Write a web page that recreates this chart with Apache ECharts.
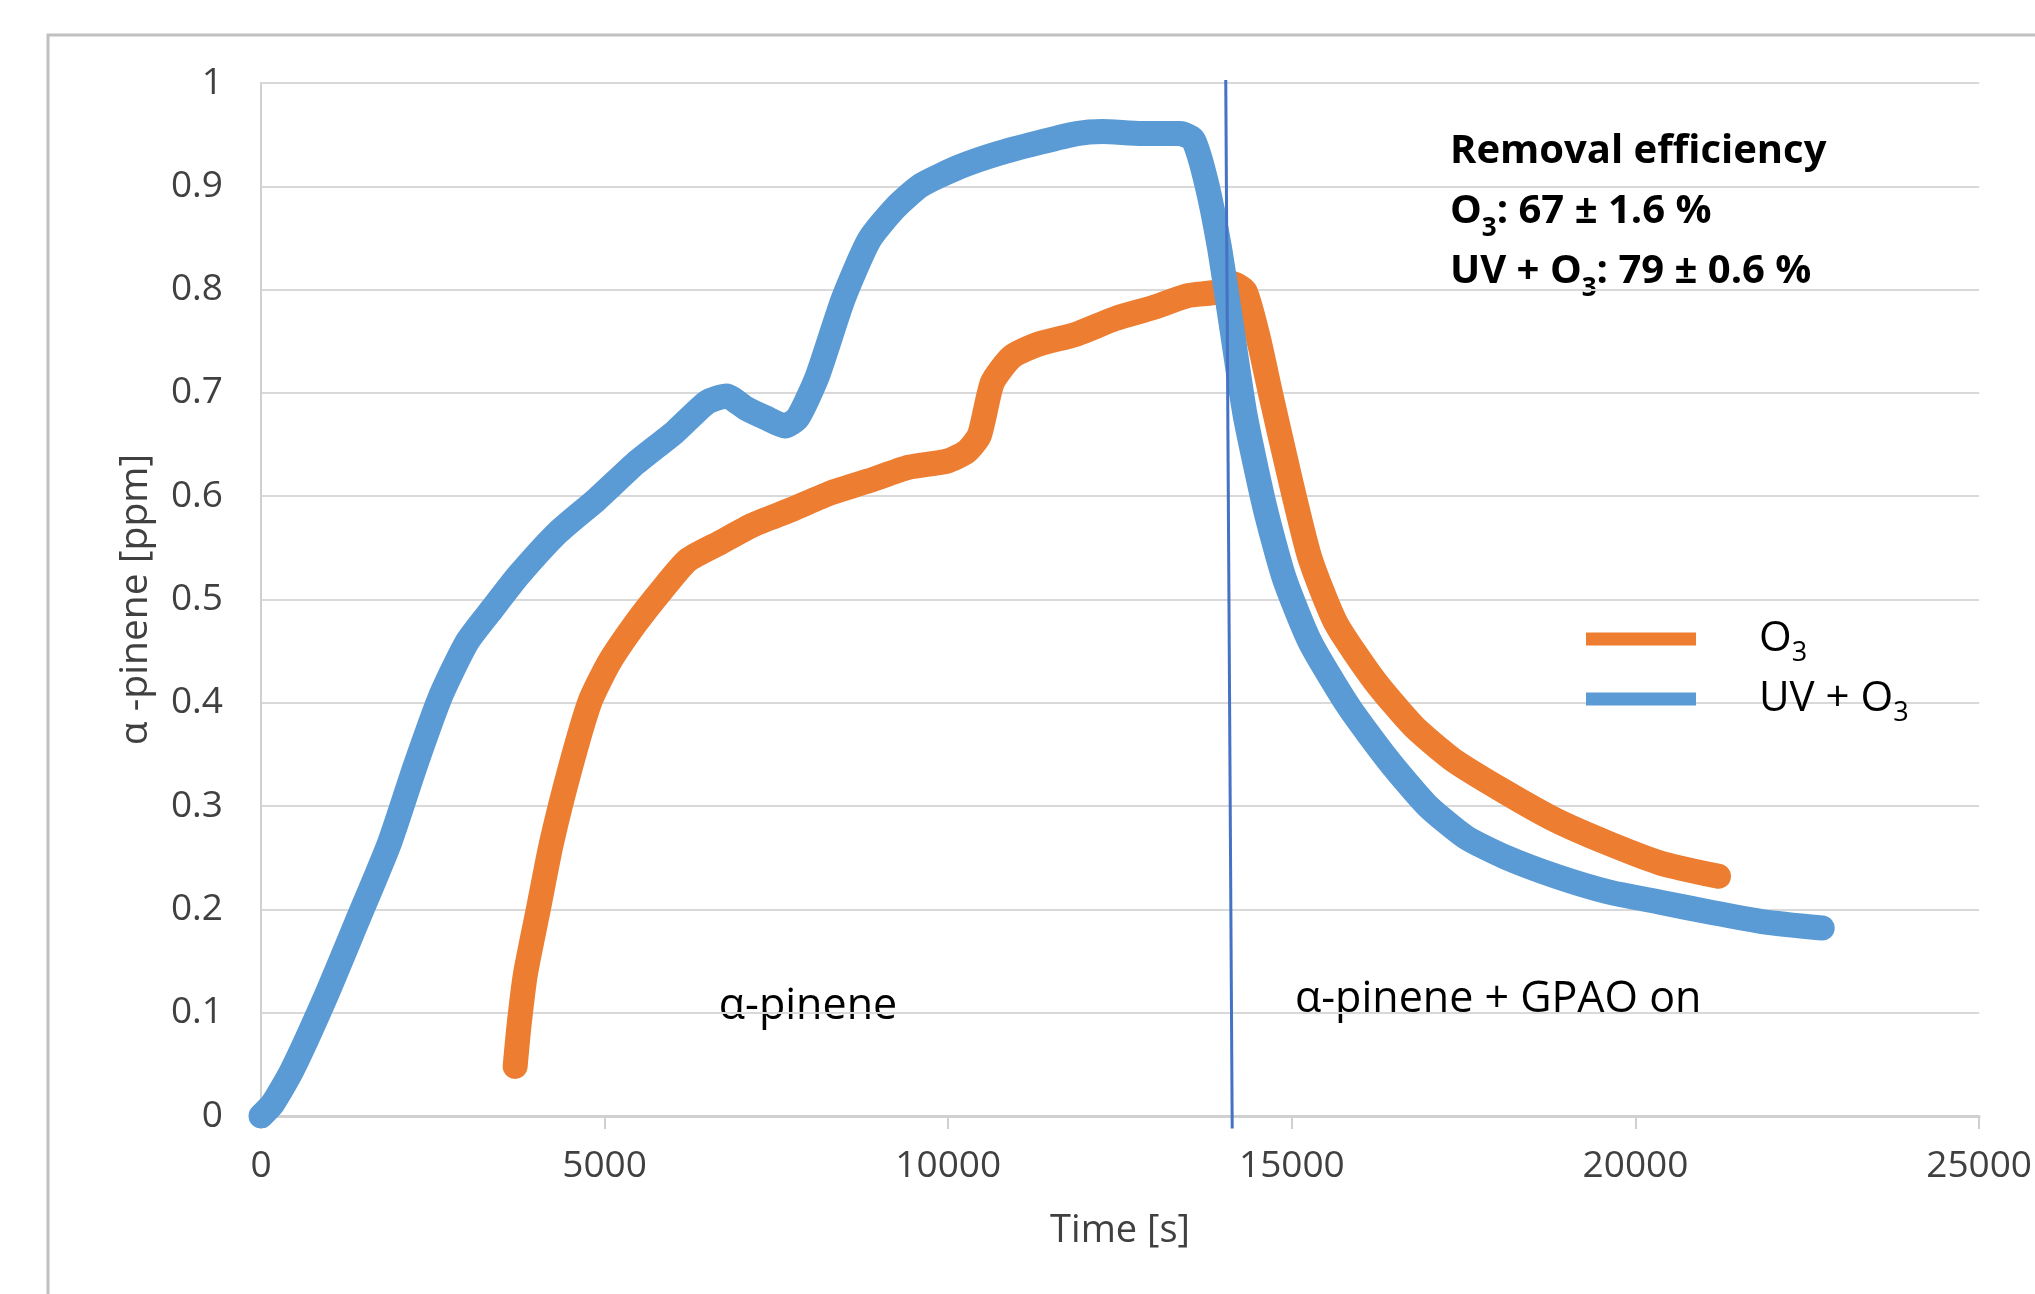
<!DOCTYPE html>
<html>
<head>
<meta charset="utf-8">
<script src="https://cdn.jsdelivr.net/npm/echarts@6/dist/echarts.min.js"></script>
<style>
  html, body { margin: 0; padding: 0; background: #fff; }
  #main { width: 2035px; height: 1294px; }
</style>
</head>
<body>
<div id="main"></div>
<script>
// time [s] / alpha-pinene [ppm]
const uvTime = [0, 170, 450, 925, 1396, 1868, 2245, 2623, 3000, 3378, 3755, 4321, 4887, 5453, 6019, 6491, 6774, 7057, 7340, 7623, 7811, 8095, 8472, 8849, 9226, 9604, 10170, 10736, 11302, 11868, 12245, 12811, 13377, 13566, 13755, 13943, 14132, 14321, 14604, 14887, 15264, 15830, 16396, 16962, 17528, 18094, 18849, 19604, 20358, 21113, 21868, 22717]
const uvConc = [0.0, 0.012, 0.044, 0.113, 0.188, 0.264, 0.339, 0.408, 0.459, 0.492, 0.524, 0.565, 0.597, 0.632, 0.662, 0.691, 0.697, 0.685, 0.676, 0.668, 0.676, 0.716, 0.791, 0.848, 0.879, 0.901, 0.919, 0.932, 0.942, 0.951, 0.953, 0.951, 0.951, 0.945, 0.904, 0.842, 0.760, 0.678, 0.590, 0.521, 0.459, 0.396, 0.345, 0.301, 0.270, 0.251, 0.232, 0.217, 0.207, 0.197, 0.188, 0.182]

const o3Time = [3698, 3755, 3849, 4038, 4226, 4509, 4792, 5075, 5453, 5830, 6208, 6679, 7151, 7717, 8283, 8849, 9415, 9981, 10264, 10453, 10642, 10925, 11302, 11868, 12434, 13000, 13472, 13943, 14132, 14321, 14509, 14698, 14981, 15264, 15642, 16208, 16774, 17340, 18094, 18849, 19604, 20358, 21208]
const o3Conc = [0.048, 0.088, 0.138, 0.201, 0.264, 0.339, 0.402, 0.440, 0.477, 0.509, 0.538, 0.555, 0.572, 0.587, 0.603, 0.615, 0.628, 0.634, 0.643, 0.659, 0.710, 0.735, 0.747, 0.757, 0.772, 0.783, 0.794, 0.798, 0.806, 0.798, 0.754, 0.697, 0.615, 0.540, 0.477, 0.421, 0.377, 0.345, 0.314, 0.286, 0.264, 0.245, 0.232]

// GPAO switched on
const markerTime = [14038, 14132]
const markerConc = [1.003, -0.012]

const xTicks = [0, 5000, 10000, 15000, 20000, 25000]

const FONT = '"Open Sans", "Noto Sans", sans-serif'
const pairs = (xs, ys) => xs.map((x, i) => [x, ys[i]])

// subscript styles for O3
const rich = {
  m: { fontFamily: FONT, fontSize: 42, lineHeight: 56, color: '#000' },
  s: { fontFamily: FONT, fontSize: 27, lineHeight: 27, verticalAlign: 'bottom', color: '#000' },
  b: { fontFamily: FONT, fontSize: 40, fontWeight: 'bold', lineHeight: 60, color: '#000' },
  bs: { fontFamily: FONT, fontSize: 26, fontWeight: 'bold', lineHeight: 24, verticalAlign: 'bottom', color: '#000' },
  g: { width: 58 }
}

let myChart = echarts.init(document.getElementById('main'))

myChart.setOption({
  animation: false,
  backgroundColor: '#fff',
  grid: { left: 261, top: 83, right: 55, bottom: 178 },
  legend: {
    orient: 'vertical',
    left: 1581,
    top: 613,
    itemWidth: 110,
    itemHeight: 13,
    itemGap: 11,
    icon: 'rect',
    data: ['O3', 'UV + O3'],
    formatter: n => n === 'O3' ? '{g|}{m|O}{s|3}' : '{g|}{m|UV + O}{s|3}',
    textStyle: { rich: rich }
  },
  xAxis: {
    type: 'value',
    min: 0,
    max: 25000,
    interval: 5000,
    name: 'Time [s]',
    nameLocation: 'middle',
    nameGap: 96,
    nameTextStyle: { fontFamily: FONT, fontSize: 38, color: '#404040' },
    axisLine: { lineStyle: { color: '#d0d0d0', width: 3 } },
    axisTick: { show: true, length: 13, lineStyle: { color: '#d0d0d0', width: 2 } },
    axisLabel: {
      margin: 32,
      fontFamily: FONT,
      fontSize: 37,
      color: '#404040',
      formatter: v => xTicks.includes(v) ? String(v) : ''
    },
    splitLine: { show: false }
  },
  yAxis: {
    type: 'value',
    min: 0,
    max: 1,
    interval: 0.1,
    name: 'α -pinene [ppm]',
    nameLocation: 'middle',
    nameRotate: 90,
    nameGap: 106,
    nameTextStyle: { fontFamily: FONT, fontSize: 39, color: '#404040' },
    axisLine: { show: true, lineStyle: { color: '#d0d0d0', width: 2 } },
    axisTick: { show: false },
    axisLabel: {
      margin: 38,
      fontFamily: FONT,
      fontSize: 37,
      color: '#404040',
      formatter: v => String(Math.round(v * 10) / 10)
    },
    splitLine: { lineStyle: { color: '#d9d9d9', width: 2 } }
  },
  series: [
    {
      name: 'O3',
      type: 'line',
      data: pairs(o3Time, o3Conc),
      showSymbol: false,
      smooth: 0.2,
      lineStyle: { color: '#ED7D31', width: 25, cap: 'round', join: 'round' },
      itemStyle: { color: '#ED7D31' },
      z: 2
    },
    {
      name: 'UV + O3',
      type: 'line',
      data: pairs(uvTime, uvConc),
      showSymbol: false,
      smooth: 0.2,
      lineStyle: { color: '#5B9BD5', width: 25, cap: 'round', join: 'round' },
      itemStyle: { color: '#5B9BD5' },
      z: 3
    },
    {
      name: 'GPAO',
      type: 'line',
      data: pairs(markerTime, markerConc),
      showSymbol: false,
      clip: false,
      lineStyle: { color: '#4472C4', width: 3 },
      z: 4
    }
  ],
  graphic: [
    {
      type: 'rect',
      shape: { x: 48, y: 35, width: 2100, height: 1400 },
      style: { fill: 'none', stroke: '#c0c0c0', lineWidth: 3 },
      silent: true
    },
    {
      type: 'text',
      x: 1450,
      y: 122,
      style: {
        text: '{b|Removal efficiency}\n{b|O}{bs|3}{b|: 67 ± 1.6 %}\n{b|UV + O}{bs|3}{b|: 79 ± 0.6 %}',
        rich: rich
      }
    },
    {
      type: 'text',
      x: 808,
      y: 1007,
      style: {
        text: 'α-pinene',
        font: '43px ' + FONT,
        fill: '#000',
        align: 'center',
        verticalAlign: 'middle'
      }
    },
    {
      type: 'text',
      x: 1295,
      y: 1000,
      style: {
        text: 'α-pinene + GPAO on',
        font: '43px ' + FONT,
        fill: '#000',
        align: 'left',
        verticalAlign: 'middle'
      }
    }
  ]
})
</script>
</body>
</html>
